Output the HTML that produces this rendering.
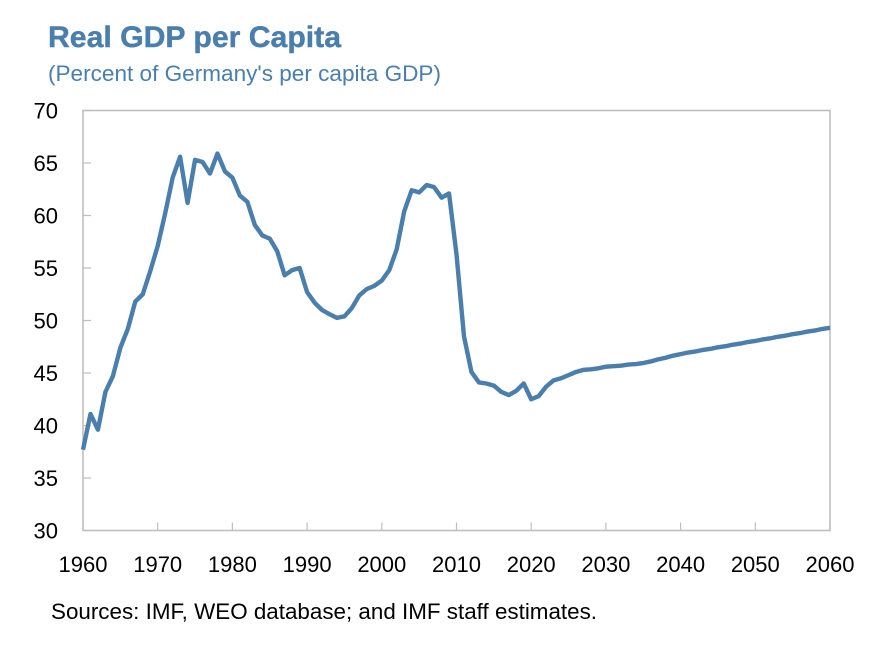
<!DOCTYPE html>
<html lang="en">
<head>
<meta charset="utf-8">
<title>Real GDP per Capita</title>
<style>
  html, body { margin: 0; padding: 0; background: #fff; }
  body { width: 878px; height: 670px; overflow: hidden; }
  svg { display: block; font-family: "Liberation Sans", sans-serif; }
</style>
</head>
<body>
<svg id="chart" width="878" height="670" viewBox="0 0 878 670" xmlns="http://www.w3.org/2000/svg">
  <rect x="0" y="0" width="878" height="670" fill="#ffffff"></rect>
  <text x="48" y="47" font-size="30" font-weight="700" fill="#4a7ead" stroke="#4a7ead" stroke-width="0.4" textLength="293" lengthAdjust="spacingAndGlyphs">Real GDP per Capita</text>
  <text x="48" y="81" font-size="22" fill="#4a7ead" textLength="393" lengthAdjust="spacingAndGlyphs">(Percent of Germany's per capita GDP)</text>
  <rect x="83" y="110.5" width="747" height="420" fill="none" stroke="#bfbfbf" stroke-width="1.6"></rect>
  <g id="ticks"></g>
  <g id="labels"></g>
  <path id="series" fill="none" stroke="#4a7ead" stroke-width="4.4" stroke-linejoin="round" stroke-linecap="butt"></path>
  <text x="51" y="619" font-size="22" fill="#000000" textLength="546" lengthAdjust="spacingAndGlyphs">Sources: IMF, WEO database; and IMF staff estimates.</text>
</svg>
<script>
const startYear = 1960;
const values = [
  37.7, 41.1, 39.6, 43.2, 44.7, 47.4, 49.2, 51.8, 52.5, 54.7,
  57.1, 60.2, 63.6, 65.6, 61.2, 65.3, 65.1, 64.0, 65.9, 64.2,
  63.6, 61.9, 61.3, 59.1, 58.1, 57.8, 56.6, 54.3, 54.8, 55.0,
  52.7, 51.7, 51.0, 50.6, 50.25, 50.4, 51.2, 52.4, 53.0, 53.3,
  53.8, 54.8, 56.8, 60.4, 62.4, 62.2, 62.9, 62.7, 61.7, 62.1,
  56.3, 48.5, 45.1, 44.1, 44.0, 43.8, 43.2, 42.9, 43.3, 44.0,
  42.5, 42.8, 43.7, 44.3, 44.5, 44.8, 45.1, 45.3, 45.35, 45.45,
  45.6, 45.65, 45.7, 45.8, 45.85, 45.95, 46.1, 46.3, 46.45, 46.65,
  46.8, 46.95, 47.05, 47.2, 47.3, 47.45, 47.55, 47.7, 47.8, 47.95,
  48.05, 48.2, 48.3, 48.45, 48.55, 48.7, 48.8, 48.95, 49.05, 49.2,
  49.3
];
const yTicks = [30, 35, 40, 45, 50, 55, 60, 65, 70];
const xTicks = [1960, 1970, 1980, 1990, 2000, 2010, 2020, 2030, 2040, 2050, 2060];

const plotLeft = 83, plotRight = 830, plotTop = 110.5, plotBottom = 530.5;
const xMin = 1960, xMax = 2060, yMin = 30, yMax = 70;
function xScale(v) { return plotLeft + (v - xMin) / (xMax - xMin) * (plotRight - plotLeft); }
function yScale(v) { return plotBottom - (v - yMin) / (yMax - yMin) * (plotBottom - plotTop); }

const NS = 'http://www.w3.org/2000/svg';
const tickGroup = document.getElementById('ticks');
const labelGroup = document.getElementById('labels');

function tickLine(x1, y1, x2, y2) {
  const line = document.createElementNS(NS, 'line');
  line.setAttribute('x1', x1);
  line.setAttribute('y1', y1);
  line.setAttribute('x2', x2);
  line.setAttribute('y2', y2);
  line.setAttribute('stroke', '#bfbfbf');
  line.setAttribute('stroke-width', '1.2');
  tickGroup.appendChild(line);
  return line;
}
function tickLabel(x, y, anchor, str) {
  const t = document.createElementNS(NS, 'text');
  t.setAttribute('x', x);
  t.setAttribute('y', y);
  t.setAttribute('text-anchor', anchor);
  t.setAttribute('font-size', '22');
  t.setAttribute('fill', '#000000');
  t.textContent = str;
  labelGroup.appendChild(t);
  return t;
}

yTicks.forEach(function (v) {
  const y = yScale(v);
  const mark = tickLine(plotLeft, y, plotLeft + 8, y);
  
  
  const label = tickLabel(58, y + 8, 'end', String(v));
  
  
});

xTicks.forEach(function (v) {
  const x = xScale(v);
  const mark = tickLine(x, plotBottom, x, plotBottom - 8);
  
  
  const label = tickLabel(x, 572, 'middle', String(v));
  
  
});

document.getElementById('series').setAttribute('d', values.map(function (v, i) {
  return (i ? 'L' : 'M') + xScale(startYear + i).toFixed(2) + ' ' + yScale(v).toFixed(2);
}).join(' '));
</script>
</body>
</html>
